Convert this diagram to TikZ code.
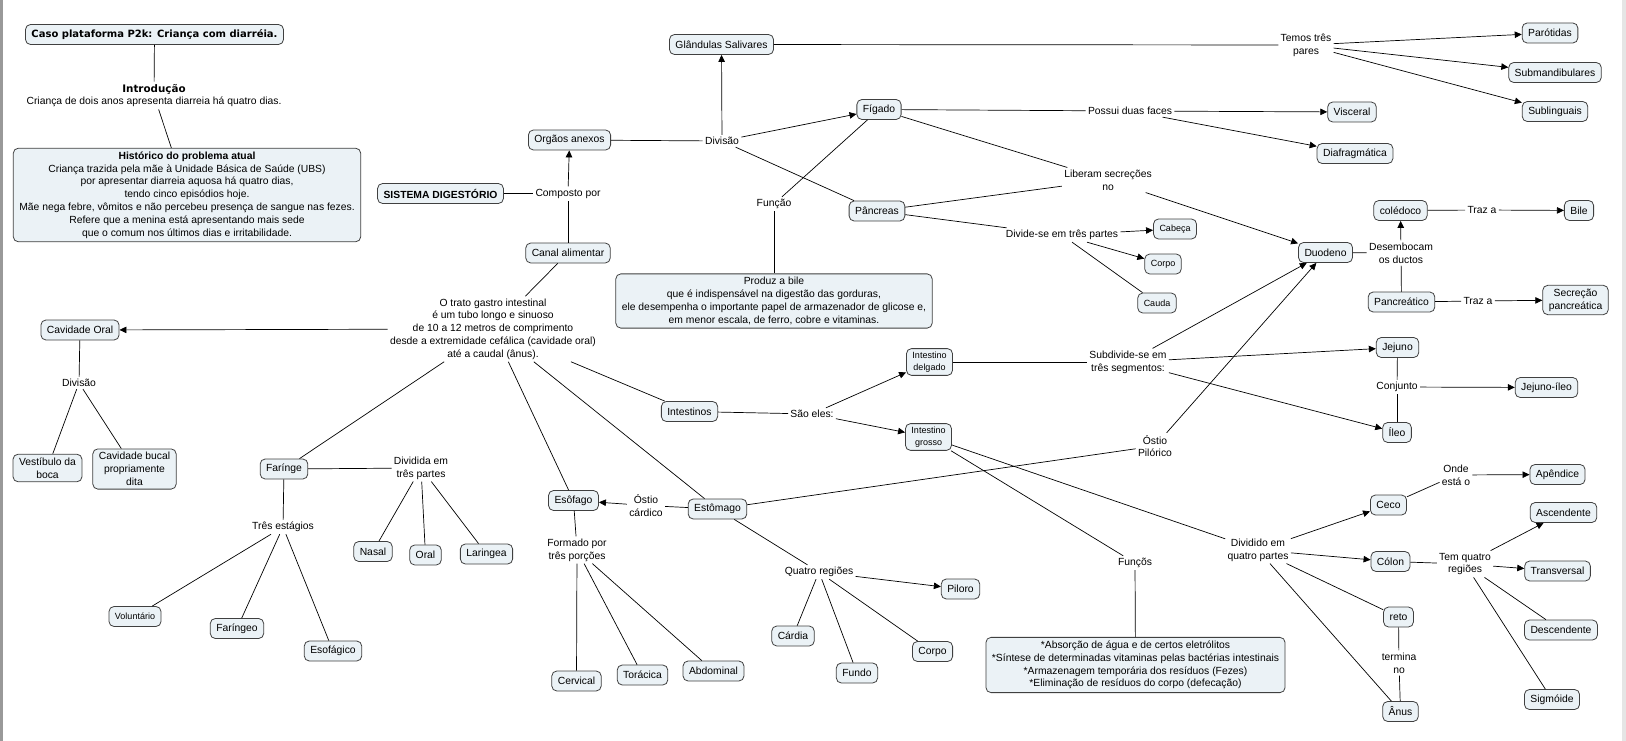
\documentclass[tikz,border=0pt]{standalone}
\usepackage{fontspec}
\setmainfont{Liberation Sans}
\newfontfamily\titlefont{DejaVu Sans}
\usetikzlibrary{positioning,
        arrows.meta}
\definecolor{cfill}{RGB}{235,242,246}

\begin{document}
\begin{tikzpicture}[x=1pt,y=-1pt,line width=0.7pt,
            every node/.style={font=\fontsize{10.35}{12.8}\selectfont},
            concept/.style={draw=black!75,line width=0.8pt,rounded corners=5pt,fill=cfill,align=center,
                minimum height=20pt,inner xsep=6pt,inner ysep=3.5pt},
            small/.style={font=\fontsize{9}{11.4}\selectfont},
            link/.style={align=center,inner sep=2pt},
            seta/.style={-{Triangle[length=7pt,width=6.5pt]}}]
            \useasboundingbox (0,0) rectangle (1626,741);
            \fill [gray!80] (0,0) rectangle (2.5,741);
            \fill [gray!20] (1622,0) rectangle (1626,741);

            \node [concept,font=\titlefont\bfseries\fontsize{10}{12}\selectfont] (titulo) at (154.5, 34.5) {Caso plataforma P2k: Criança com diarréia.};
            \node [link] (intro) at (154, 95.5) {{\titlefont\bfseries Introdução}\\Criança de dois anos apresenta diarreia há quatro dias.};
            \node [concept] (historico) at (187, 195) {{\bfseries Histórico do problema atual}\\Criança trazida pela mãe à Unidade Básica de Saúde (UBS)\\por apresentar diarreia aquosa há quatro dias,\\tendo cinco episódios hoje.\\Mãe nega febre, vômitos e não percebeu presença de sangue nas fezes.\\Refere que a menina está apresentando mais sede\\que o comum nos últimos dias e irritabilidade.};

            \node [concept,font=\bfseries\fontsize{10.35}{12.8}\selectfont] (sistema) at (440.5, 193.5) {SISTEMA DIGESTÓRIO};
            \node [link] (composto) at (568, 193.5) {Composto por};
            \node [concept] (orgaos) at (569.5, 140) {Orgãos anexos};
            \node [concept] (canal) at (568, 253) {Canal alimentar};
            \node [link] (divisao) at (722, 141) {Divisão};
            \node [concept] (glandulas) at (721.5, 44.5) {Glândulas Salivares};
            \node [link] (temos) at (1306, 45) {Temos três\\pares};
            \node [concept] (parotidas) at (1550, 33) {Parótidas};
            \node [concept] (submand) at (1555, 72.5) {Submandibulares};
            \node [concept] (subling) at (1555, 111.5) {Sublinguais};
            \node [concept] (figado) at (879, 109.5) {Fígado};
            \node [link] (possui) at (1130, 111) {Possui duas faces};
            \node [concept] (visceral) at (1352, 112) {Visceral};
            \node [concept] (diafrag) at (1355, 153.5) {Diafragmática};
            \node [link] (liberam) at (1108, 180) {Liberam secreções\\no};
            \node [concept] (pancreas) at (877, 211) {Pâncreas};
            \node [link] (divide) at (1062, 235) {Divide-se em três partes};
            \node [concept,small] (cabeca) at (1175, 229) {Cabeça};
            \node [concept,small] (corpoP) at (1163, 264) {Corpo};
            \node [concept,small] (cauda) at (1157, 303) {Cauda};
            \node [link] (funcao) at (774, 204) {Função};
            \node [concept] (produz) at (774, 301) {Produz a bile\\que é indispensável na digestão das gorduras,\\ele desempenha o importante papel de armazenador de glicose e,\\em menor escala, de ferro, cobre e vitaminas.};
            \node [concept] (duodeno) at (1325.5, 252.5) {Duodeno};
            \node [link] (desemb) at (1401, 253) {Desembocam\\os ductos};
            \node [concept] (coledoco) at (1400.5, 210.5) {colédoco};
            \node [link] (trazA) at (1482, 210) {Traz a};
            \node [concept] (bile) at (1579, 210.5) {Bile};
            \node [concept] (pancreatico) at (1401.5, 302) {Pancreático};
            \node [link] (trazB) at (1478, 301) {Traz a};
            \node [concept] (secrecao) at (1575.5, 300) {Secreção\\pancreática};

            \node [link] (trato) at (493, 329) {O trato gastro intestinal\\é um tubo longo e sinuoso\\de 10 a 12 metros de comprimento\\desde a extremidade cefálica (cavidade oral)\\até a caudal (ânus).};
            \node [concept] (cavoral) at (80, 330) {Cavidade Oral};
            \node [link] (divoral) at (79, 383) {Divisão};
            \node [concept] (vestibulo) at (47.5, 468) {Vestíbulo da\\boca};
            \node [concept] (bucal) at (134.5, 469) {Cavidade bucal\\propriamente\\dita};
            \node [concept] (faringe) at (284, 469) {Farínge};
            \node [link] (dividida) at (421, 468) {Dividida em\\três partes};
            \node [concept] (nasal) at (373, 551.5) {Nasal};
            \node [concept] (oral) at (425.5, 555) {Oral};
            \node [concept] (laringea) at (486.5, 554) {Laringea};
            \node [link] (tres) at (283, 527) {Três estágios};
            \node [concept,small] (voluntario) at (135, 616.5) {Voluntário};
            \node [concept] (faringeo) at (237, 628.5) {Faríngeo};
            \node [concept] (esofagico) at (333, 651) {Esofágico};
            \node [concept] (esofago) at (573.5, 500.5) {Esôfago};
            \node [link] (ostioC) at (646, 505.5) {Óstio\\cárdico};
            \node [concept] (estomago) at (717.5, 509) {Estômago};
            \node [link] (formado) at (577, 550) {Formado por\\três porções};
            \node [concept] (cervical) at (576.5, 681) {Cervical};
            \node [concept] (toracica) at (642.5, 675) {Torácica};
            \node [concept] (abdominal) at (713.5, 671) {Abdominal};
            \node [link] (quatro) at (819, 572) {Quatro regiões};
            \node [concept] (piloro) at (960.5, 589) {Piloro};
            \node [concept] (cardia) at (793, 636) {Cárdia};
            \node [concept] (fundo) at (857, 673) {Fundo};
            \node [concept] (corpoE) at (932.5, 651.5) {Corpo};

            \node [concept] (intestinos) at (689.5, 411.5) {Intestinos};
            \node [link] (saoeles) at (812, 414) {São eles:};
            \node [concept,small] (delgado) at (929.5, 362) {Intestino\\delgado};
            \node [concept,small] (grosso) at (928.5, 437) {Intestino\\grosso};
            \node [link] (subdivide) at (1128, 362) {Subdivide-se em\\três segmentos:};
            \node [concept] (jejuno) at (1397.5, 347.5) {Jejuno};
            \node [link] (conjunto) at (1397, 387) {Conjunto};
            \node [concept] (jejunoileo) at (1546.5, 387.5) {Jejuno-íleo};
            \node [concept] (ileo) at (1397, 432.5) {Íleo};
            \node [link] (ostioP) at (1155, 446) {Óstio\\Pilórico};
            \node [link] (funcoes) at (1135, 563) {Funçõs};
            \node [concept] (funcbox) at (1135.5, 665) {*Absorção de água e de certos eletrólitos\\*Síntese de determinadas vitaminas pelas bactérias intestinais\\*Armazenagem temporária dos resíduos (Fezes)\\*Eliminação de resíduos do corpo (defecação)};
            \node [link] (dividido) at (1258, 550) {Dividido em\\quatro partes};
            \node [concept] (ceco) at (1388.5, 505) {Ceco};
            \node [concept] (colon) at (1390.5, 561.5) {Cólon};
            \node [concept] (reto) at (1398.5, 617) {reto};
            \node [link] (termina) at (1399, 663) {termina\\no};
            \node [concept] (anus) at (1400.5, 711.5) {Ânus};
            \node [link] (onde) at (1456, 475) {Onde\\está o};
            \node [concept] (apendice) at (1557.5, 474.5) {Apêndice};
            \node [link] (temquatro) at (1465, 564) {Tem quatro\\regiões};
            \node [concept] (ascendente) at (1563.5, 512.5) {Ascendente};
            \node [concept] (transversal) at (1557.5, 571) {Transversal};
            \node [concept] (descendente) at (1561, 630) {Descendente};
            \node [concept] (sigmoide) at (1552, 699.5) {Sigmóide};

            \draw (titulo) -- (intro);
            \draw (intro) -- (historico);
            \draw (sistema) -- (composto);
            \draw (canal) -- (composto);
            \draw [seta] (composto) -- (orgaos);
            \draw (orgaos) -- (divisao);
            \draw [seta] (divisao) -- (glandulas);
            \draw [seta] (divisao) -- (figado);
            \draw (divisao) -- (pancreas);
            \draw (glandulas) -- (temos);
            \draw [seta] (temos) -- (parotidas);
            \draw [seta] (temos) -- (submand);
            \draw [seta] (temos) -- (subling);
            \draw (figado) -- (possui);
            \draw [seta] (possui) -- (visceral);
            \draw [seta] (possui) -- (diafrag);
            \draw (figado) -- (liberam);
            \draw (pancreas) -- (liberam);
            \draw [seta] (liberam) -- (duodeno);
            \draw (pancreas) -- (divide);
            \draw [seta] (divide) -- (cabeca);
            \draw [seta] (divide) -- (corpoP);
            \draw (divide) -- (cauda);
            \draw (figado) -- (funcao);
            \draw (funcao) -- (produz);
            \draw (duodeno) -- (desemb);
            \draw [seta] (desemb) -- (coledoco);
            \draw (desemb) -- (pancreatico);
            \draw (coledoco) -- (trazA);
            \draw [seta] (trazA) -- (bile);
            \draw (pancreatico) -- (trazB);
            \draw [seta] (trazB) -- (secrecao);

            \draw (canal) -- (trato);
            \draw [seta] (trato) -- (cavoral);
            \draw (cavoral) -- (divoral);
            \draw (divoral) -- (vestibulo);
            \draw (divoral) -- (bucal);
            \draw (trato) -- (faringe);
            \draw (faringe) -- (dividida);
            \draw (dividida) -- (nasal);
            \draw (dividida) -- (oral);
            \draw (dividida) -- (laringea);
            \draw (faringe) -- (tres);
            \draw (tres) -- (voluntario);
            \draw (tres) -- (faringeo);
            \draw (tres) -- (esofagico);
            \draw (trato) -- (esofago);
            \draw (trato) -- (estomago);
            \draw (estomago) -- (ostioC);
            \draw [seta] (ostioC) -- (esofago);
            \draw (esofago) -- (formado);
            \draw (formado) -- (cervical);
            \draw (formado) -- (toracica);
            \draw (formado) -- (abdominal);
            \draw (estomago) -- (quatro);
            \draw [seta] (quatro) -- (piloro);
            \draw (quatro) -- (cardia);
            \draw (quatro) -- (fundo);
            \draw (quatro) -- (corpoE);
            \draw (estomago) -- (ostioP);
            \draw [seta] (ostioP) -- (duodeno);

            \draw (trato) -- (intestinos);
            \draw (intestinos) -- (saoeles);
            \draw [seta] (saoeles) -- (delgado);
            \draw [seta] (saoeles) -- (grosso);
            \draw (delgado) -- (subdivide);
            \draw [seta] (subdivide) -- (jejuno);
            \draw [seta] (subdivide) -- (ileo);
            \draw [seta] (subdivide) -- (duodeno);
            \draw (jejuno) -- (conjunto);
            \draw (conjunto) -- (ileo);
            \draw [seta] (conjunto) -- (jejunoileo);
            \draw (grosso) -- (funcoes);
            \draw (funcoes) -- (funcbox);
            \draw (grosso) -- (dividido);
            \draw [seta] (dividido) -- (ceco);
            \draw [seta] (dividido) -- (colon);
            \draw (dividido) -- (reto);
            \draw (dividido) -- (anus);
            \draw (reto) -- (termina);
            \draw (termina) -- (anus);
            \draw (ceco) -- (onde);
            \draw [seta] (onde) -- (apendice);
            \draw (colon) -- (temquatro);
            \draw [seta] (temquatro) -- (ascendente);
            \draw [seta] (temquatro) -- (transversal);
            \draw (temquatro) -- (descendente);
            \draw (temquatro) -- (sigmoide);
        \end{tikzpicture}
\end{document}
